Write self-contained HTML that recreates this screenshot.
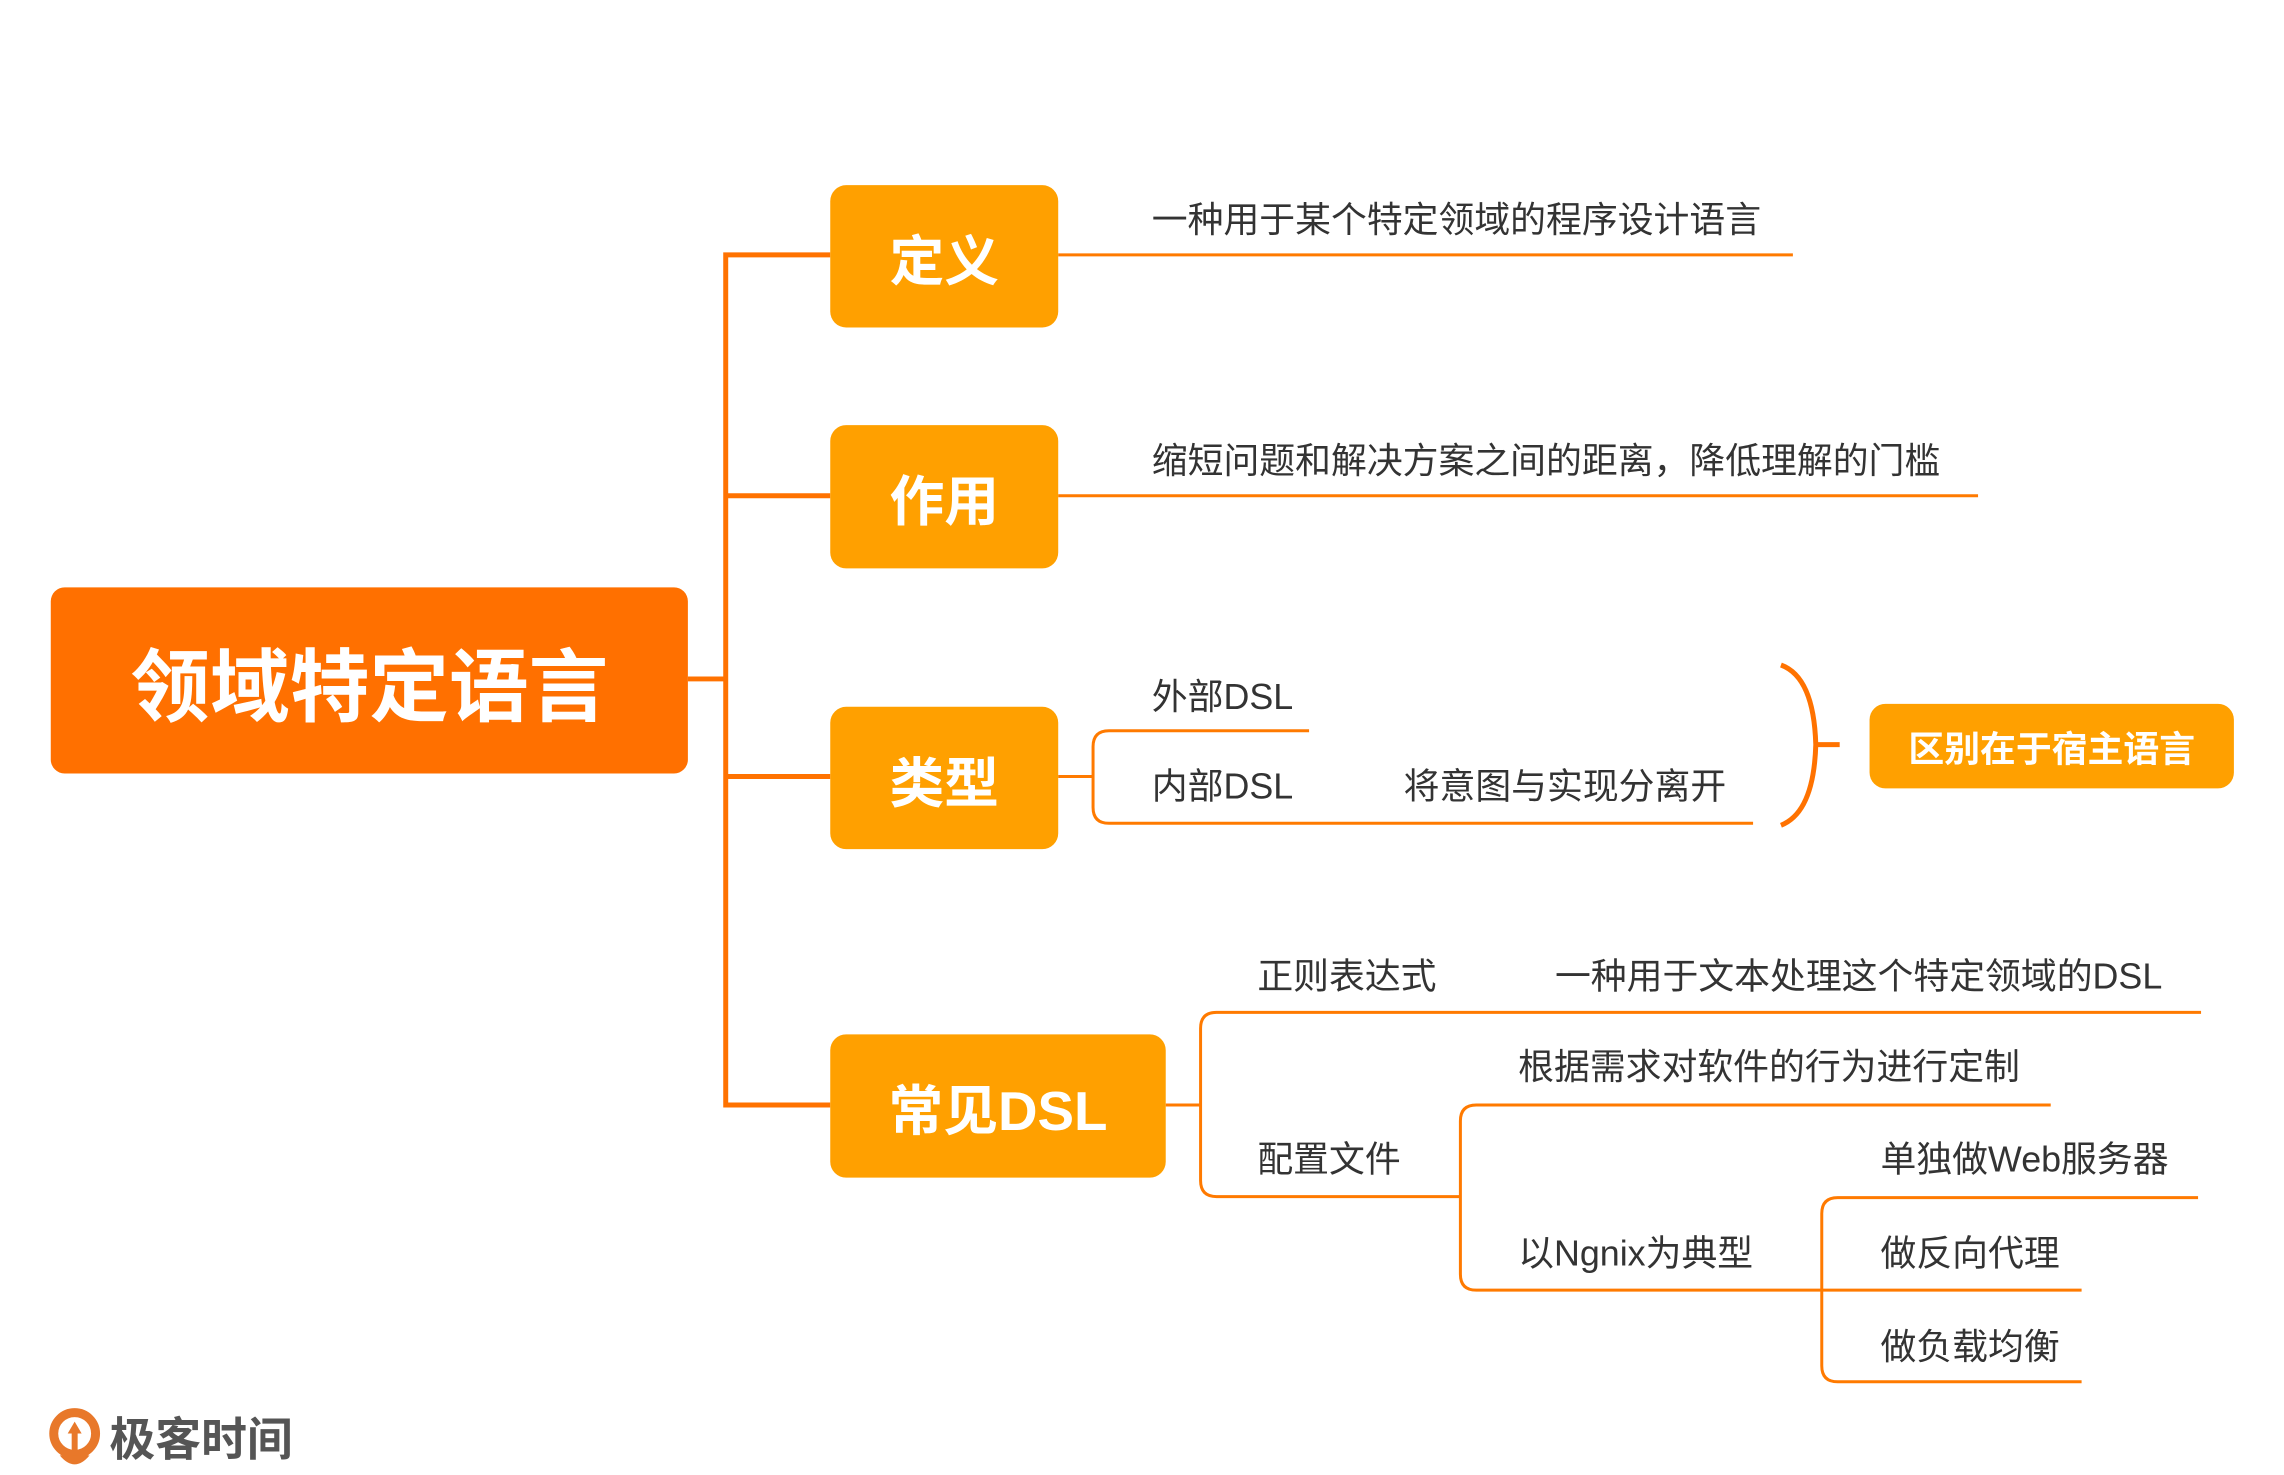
<!DOCTYPE html>
<html><head><meta charset="utf-8"><style>
html,body{margin:0;padding:0;background:#fff;}
body{width:2284px;height:1475px;position:relative;overflow:hidden;font-family:"Liberation Sans","Noto Sans CJK SC",sans-serif;}
#w{position:absolute;left:0;top:0;width:2284px;height:1475px;transform:scale(0.9955);transform-origin:0 0;}
.box{position:absolute;display:flex;align-items:center;justify-content:center;color:#fff;font-weight:bold;}
.t{position:absolute;color:#333;font-size:36px;line-height:36px;white-space:nowrap;transform:translateY(-50%);}
</style></head><body><div id="w">
<svg width="2284" height="1475" style="position:absolute;left:0;top:0" fill="none">
<g stroke="#FF7200" stroke-width="5">
<path d="M691 682 H729 M834 256 H729 V1110 H834 M729 498 H834 M729 780 H834"/>
</g>
<g stroke="#FF7A00" stroke-width="3">
<path d="M1063 256 H1801"/>
<path d="M1063 498 H1987"/>
<path d="M1063 780 H1098"/>
<path d="M1315 734 H1114 Q1098 734 1098 750 V811 Q1098 827 1114 827 H1761"/>
<path d="M1171 1110 H1206"/>
<path d="M2211 1017 H1222 Q1206 1017 1206 1033 V1186 Q1206 1202 1222 1202 H1467"/>
<path d="M2060 1110 H1483 Q1467 1110 1467 1126 V1280 Q1467 1296 1483 1296 H1830"/>
<path d="M2208 1203 H1846 Q1830 1203 1830 1219 V1372 Q1830 1388 1846 1388 H2091"/>
<path d="M1830 1296 H2091"/>
</g>
<path d="M1789 668 Q1822 680 1824 748 Q1822 816 1789 829" stroke="#FF7200" stroke-width="5"/>
<path d="M1824 748 H1848" stroke="#FF7200" stroke-width="5"/>
<circle cx="75" cy="1440" r="21" stroke="#E8782A" stroke-width="9"/>
<path d="M68 1440 L75 1428 L82 1440 L78 1440 L78 1462 L72 1462 L72 1440 Z" fill="#E8782A"/>
<path d="M60 1462 Q75 1480 90 1462 Z" fill="#E8782A"/>
</svg>
<div class="box" style="left:51px;top:590px;width:640px;height:187px;background:#FF7000;border-radius:14px;font-size:80px;">领域特定语言</div>
<div class="box" style="left:834px;top:186px;width:229px;height:143px;background:#FFA000;border-radius:16px;font-size:55px;">定义</div>
<div class="box" style="left:834px;top:427px;width:229px;height:144px;background:#FFA000;border-radius:16px;font-size:55px;">作用</div>
<div class="box" style="left:834px;top:710px;width:229px;height:143px;background:#FFA000;border-radius:16px;font-size:55px;">类型</div>
<div class="box" style="left:834px;top:1039px;width:337px;height:144px;background:#FFA000;border-radius:16px;font-size:55px;">常见DSL</div>
<div class="box" style="left:1878px;top:707px;width:366px;height:85px;background:#FFA000;border-radius:16px;font-size:36px;">区别在于宿主语言</div>
<div class="t" style="left:1157px;top:221px;">一种用于某个特定领域的程序设计语言</div>
<div class="t" style="left:1157px;top:463px;">缩短问题和解决方案之间的距离，降低理解的门槛</div>
<div class="t" style="left:1157px;top:700px;">外部DSL</div>
<div class="t" style="left:1157px;top:790px;">内部DSL</div>
<div class="t" style="left:1410px;top:790px;">将意图与实现分离开</div>
<div class="t" style="left:1263px;top:981px;">正则表达式</div>
<div class="t" style="left:1562px;top:981px;">一种用于文本处理这个特定领域的DSL</div>
<div class="t" style="left:1263px;top:1165px;">配置文件</div>
<div class="t" style="left:1525px;top:1072px;">根据需求对软件的行为进行定制</div>
<div class="t" style="left:1525px;top:1259px;">以Ngnix为典型</div>
<div class="t" style="left:1889px;top:1165px;">单独做Web服务器</div>
<div class="t" style="left:1889px;top:1259px;">做反向代理</div>
<div class="t" style="left:1889px;top:1353px;">做负载均衡</div>
<div class="t" style="left:110px;top:1446px;font-size:46px;line-height:46px;color:#555;font-weight:bold;">极客时间</div>
</div></body></html>
